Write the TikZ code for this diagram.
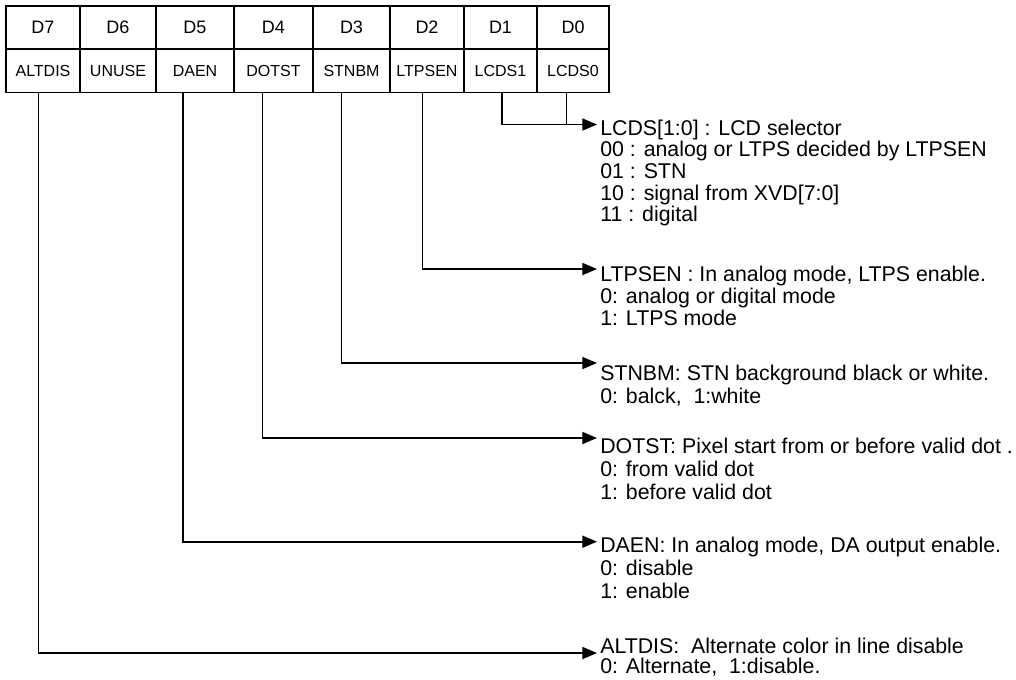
\documentclass[tikz,border=0pt]{standalone}
\usepackage{fontspec}
\setmainfont{Liberation Sans}
\usetikzlibrary{arrows.meta}
\begin{document}
\begin{tikzpicture}[x=0.75pt,y=-0.75pt,
  cell/.style={draw, line width=1.2pt, inner sep=0pt, minimum height=32.5pt},
  dcell/.style={cell, font=\fontsize{13.5}{14}\selectfont},
  ncell/.style={cell, font=\fontsize{12}{13}\selectfont},
  conn/.style={line width=1.3pt, -{Triangle[length=11pt,width=9pt]}},
  plain/.style={line width=1.3pt},
  desc/.style={inner sep=0pt, anchor=base west, font=\fontsize{16}{16}\selectfont}]
\useasboundingbox (0,0) rectangle (1016,679);
% header row
\node[dcell, minimum width=55.5pt]  (d7) at (43,27.65) {D7};
\node[dcell, minimum width=57pt]    (d6) at (118,27.65) {D6};
\node[dcell, minimum width=58.5pt]  (d5) at (195,27.65) {D5};
\node[dcell, minimum width=59.25pt] (d4) at (273.5,27.65) {D4};
\node[dcell, minimum width=57.75pt] (d3) at (351.5,27.65) {D3};
\node[dcell, minimum width=55.5pt]  (d2) at (427,27.65) {D2};
\node[dcell, minimum width=54.75pt] (d1) at (500.5,27.65) {D1};
\node[dcell, minimum width=54pt]    (d0) at (573,27.65) {D0};
% name row
\node[ncell, minimum width=55.5pt]  (altdis) at (43,70.95) {ALTDIS};
\node[ncell, minimum width=57pt]    (unuse)  at (118,70.95) {UNUSE};
\node[ncell, minimum width=58.5pt]  (daen)   at (195,70.95) {DAEN};
\node[ncell, minimum width=59.25pt] (dotst)  at (273.5,70.95) {DOTST};
\node[ncell, minimum width=57.75pt] (stnbm)  at (351.5,70.95) {STNBM};
\node[ncell, minimum width=55.5pt]  (ltpsen) at (427,70.95) {LTPSEN};
\node[ncell, minimum width=54.75pt] (lcds1)  at (500.5,70.95) {LCDS1};
\node[ncell, minimum width=54pt]    (lcds0)  at (573,70.95) {LCDS0};
% arrow tips
\coordinate (tipL) at (597,124.5);
\coordinate (tipP) at (597,269);
\coordinate (tipS) at (597,363);
\coordinate (tipO) at (597,438);
\coordinate (tipD) at (597,541.7);
\coordinate (tipA) at (597,653);
\coordinate (l0) at ([xshift=-4.875pt]lcds0.south);
% connectors
\draw[conn] ([xshift=1.125pt]lcds1.south) |- (tipL);
\draw[plain] (l0) -- (l0 |- tipL);
\draw[conn] ([xshift=-3.375pt]ltpsen.south) |- (tipP);
\draw[conn] ([xshift=-7.5pt]stnbm.south) |- (tipS);
\draw[conn] ([xshift=-8.25pt]dotst.south) |- (tipO);
\draw[conn] ([xshift=-9pt]daen.south) |- (tipD);
\draw[conn] ([xshift=-3.375pt]altdis.south) |- (tipA);
% descriptions
\node[desc] (tL) at (600,135) {\vtop{\baselineskip=16.3pt
  \hbox{LCDS[1:0] : LCD selector}
  \hbox{00 : analog or LTPS decided by LTPSEN}
  \hbox{01 : STN}
  \hbox{10 : signal from XVD[7:0]}
  \hbox{11 : digital}}};
\node[desc] (tP) at (600,281.5) {\vtop{\baselineskip=16.5pt
  \hbox{LTPSEN : In analog mode, LTPS enable.}
  \hbox{0: analog or digital mode}
  \hbox{1: LTPS mode}}};
\node[desc] (tS) at (600,380) {\vtop{\baselineskip=17.5pt
  \hbox{STNBM: STN background black or white.}
  \hbox{0: balck,\ \ 1:white}}};
\node[desc] (tO) at (600,453) {\vtop{\baselineskip=17.5pt
  \hbox{DOTST: Pixel start from or before valid dot .}
  \hbox{0: from valid dot}
  \hbox{1: before valid dot}}};
\node[desc] (tD) at (600,552) {\vtop{\baselineskip=17.5pt
  \hbox{DAEN: In analog mode, DA output enable.}
  \hbox{0: disable}
  \hbox{1: enable}}};
\node[desc] (tA) at (600,653) {\vtop{\baselineskip=15pt
  \hbox{ALTDIS:\ \ Alternate color in line disable}
  \hbox{0: Alternate,\ \ 1:disable.}}};
\end{tikzpicture}
\end{document}
